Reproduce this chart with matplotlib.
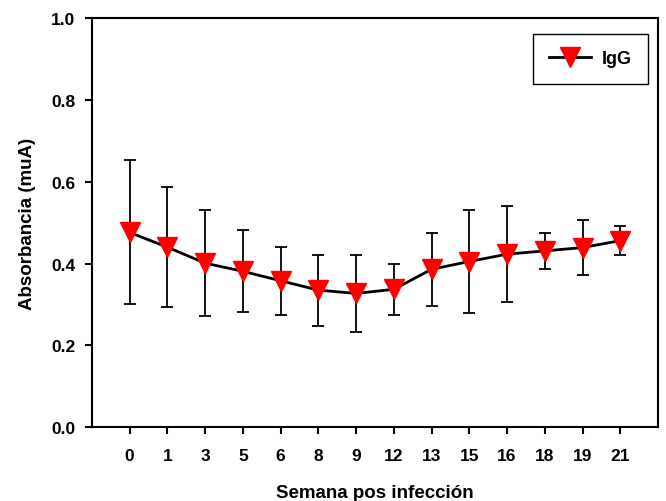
import matplotlib.pyplot as plt

plt.rcParams['font.family'] = ['Liberation Sans', 'DejaVu Sans']

# semanas pos infeccion y absorbancia media de IgG con su desviacion
semanas = ['0', '1', '3', '5', '6', '8', '9', '12', '13', '15', '16', '18', '19', '21']
igg = [0.476, 0.440, 0.401, 0.381, 0.358, 0.335, 0.327, 0.337, 0.386, 0.405, 0.423, 0.431, 0.439, 0.456]
igg_sd = [0.176, 0.147, 0.130, 0.100, 0.083, 0.087, 0.095, 0.063, 0.089, 0.126, 0.117, 0.044, 0.067, 0.035]

fig = plt.figure(figsize=(6.66, 5.02), dpi=100)
ax = fig.add_axes([0.138, 0.147, 0.850, 0.815])

x = list(range(len(semanas)))
# barras de error primero, la linea con los triangulos encima
ax.errorbar(x, igg, yerr=igg_sd, fmt='none', ecolor='black', elinewidth=1.3,
            capsize=4, capthick=1.3)
ax.plot(x, igg, color='black', lw=2, marker='v', ms=14, mfc='red', mec='red',
        label='IgG')

ax.set_xlim(-1, 14)
ax.set_ylim(0, 1.0)
ax.set_xticks(x)
ax.set_xticklabels(semanas)
ax.set_yticks([0.0, 0.2, 0.4, 0.6, 0.8, 1.0])
ax.set_yticklabels(['0.0', '0.2', '0.4', '0.6', '0.8', '1.0'])

for s in ax.spines.values():
    s.set_linewidth(1.5)
ax.tick_params(direction='out', length=5, width=1.5, labelsize=12.5)
ax.tick_params(axis='x', pad=10)
ax.tick_params(axis='y', pad=7)
for lbl in ax.get_xticklabels() + ax.get_yticklabels():
    lbl.set_fontweight('bold')

ax.set_xlabel('Semana pos infección', fontsize=13.5, fontweight='bold', labelpad=15)
ax.set_ylabel('Absorbancia (muA)', fontsize=13.5, fontweight='bold', labelpad=11)

leg = ax.legend(loc='upper right', bbox_to_anchor=(0.982, 0.961), fancybox=False,
                edgecolor='black', prop={'weight': 'bold', 'size': 13},
                handlelength=2.3, handletextpad=0.6, borderpad=0.9,
                borderaxespad=0, framealpha=1)
leg.get_frame().set_linewidth(1.0)

fig.savefig('out.png', dpi=100)
